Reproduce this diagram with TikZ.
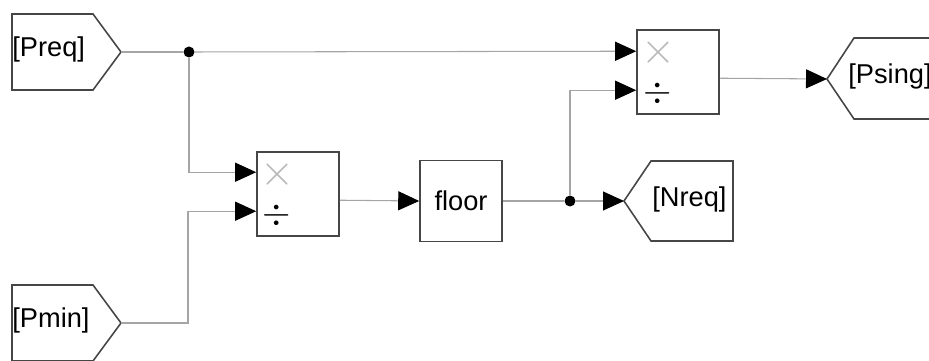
\documentclass[tikz,border=0pt]{standalone}
\usepackage{fontspec}
\setmainfont{Liberation Sans}
\usetikzlibrary{arrows.meta,calc}

\definecolor{blockgray}{RGB}{70,70,70}
\definecolor{wiregray}{RGB}{165,165,165}
\definecolor{signgray}{RGB}{185,185,185}

\tikzset{
    block/.style={draw=blockgray, line width=0.9pt, fill=white, inner sep=0pt,
        minimum width=1.64cm, minimum height=1.68cm, font=\fontsize{15.5}{18}\selectfont},
    tag/.style={draw=blockgray, line width=0.9pt, line join=miter},
    tagtext/.style={inner sep=0pt, font=\fontsize{15.5}{18}\selectfont},
    wire/.style={draw=wiregray, line width=0.6pt},
    sig/.style={wire, -{Triangle[length=0.42cm, width=0.38cm, color=black]}},
    junction/.style={circle, fill=black, inner sep=0pt, minimum size=0.22cm},
    mulsign/.style={inner sep=0pt, text=signgray, font=\fontsize{24}{24}\selectfont},
    divsign/.style={inner sep=0pt, font=\fontsize{20}{20}\selectfont},
}

\begin{document}
\begin{tikzpicture}[x=0.02cm, y=-0.02cm]
\useasboundingbox (0,0) rectangle (929,361);
\clip (0,0) rectangle (929,361);

% goto tags
\draw[tag] (12,14) -- (93,14) -- (121,52) -- (93,90) -- (12,90) -- cycle;
\node[tagtext, anchor=west] (preq) at (12,49) {[Preq]};
\coordinate (preq tip) at (121,52);

\draw[tag] (12,285) -- (93,285) -- (121,323) -- (93,361) -- (12,361) -- cycle;
\node[tagtext, anchor=west] (pmin) at (12,320) {[Pmin]};
\coordinate (pmin tip) at (121,323);

\draw[tag] (624,201) -- (651,161) -- (733,161) -- (733,241) -- (651,241) -- cycle;
\node[tagtext, anchor=west] (nreq) at (652,199) {[Nreq]};
\coordinate (nreq tip) at (624,201);

\draw[tag] (827,79) -- (854,38) -- (940,38) -- (940,119) -- (854,119) -- cycle;
\node[tagtext, anchor=west] (psing) at (848,76) {[Psing]};
\coordinate (psing tip) at (827,79);

% blocks
\node[block] (prodA) at (298,194) {};
\node[mulsign] (prodAmul) at (277,175) {$\times$};
\node[divsign] (prodAdiv) at (277,215) {$\div$};

\node[block, minimum height=1.62cm] (floor) at (461,201) {floor};

\node[block] (prodB) at (678,72) {};
\node[mulsign] (prodBmul) at (658,53) {$\times$};
\node[divsign] (prodBdiv) at (658,93) {$\div$};

% branch points
\node[junction] (j1) at (189,52) {};
\node[junction] (j2) at (570,201) {};

% signal lines
\draw[wire] (preq tip) -- (j1);
\draw[sig] (j1) -- ($(prodB.north west)+(0,22)$);
\draw[sig] (j1) |- ($(prodA.north west)+(0,21)$);
\draw[sig] (pmin tip) -- ++(67,0) |- ($(prodA.north west)+(0,60)$);
\draw[sig] ($(prodA.north east)+(0,49)$) -- (floor.west);
\draw[wire] (floor.east) -- (j2);
\draw[sig] (j2) -- (nreq tip);
\draw[sig] (j2) |- ($(prodB.north west)+(0,61)$);
\draw[sig] ($(prodB.north east)+(0,49)$) -- (psing tip);
\end{tikzpicture}
\end{document}
